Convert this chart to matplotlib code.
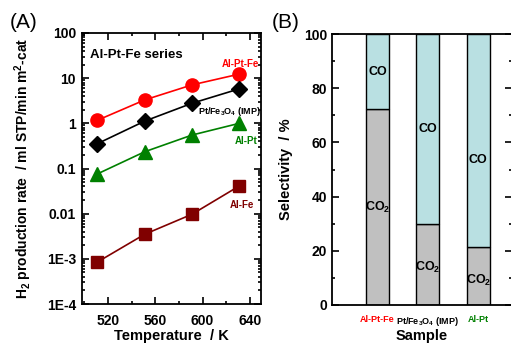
import matplotlib
matplotlib.use("Agg")
import matplotlib.pyplot as plt
import numpy as np
from matplotlib.ticker import FixedLocator, FixedFormatter, MultipleLocator, LogLocator, NullFormatter

plt.rcParams['font.family'] = ['Liberation Sans', 'DejaVu Sans']
plt.rcParams['mathtext.fontset'] = 'custom'
plt.rcParams['mathtext.rm'] = 'Liberation Sans:bold'
plt.rcParams['mathtext.it'] = 'Liberation Sans:bold'
plt.rcParams['mathtext.bf'] = 'Liberation Sans:bold'

# Panel A data
temperature = [511, 551, 591, 631]
al_pt_fe = [1.17, 3.3, 7.1, 12.3]
pt_fe3o4 = [0.355, 1.12, 2.78, 5.8]
al_pt = [0.076, 0.235, 0.55, 1.0]
al_fe = [8.5e-4, 3.5e-3, 0.0097, 0.041]
y_ticks = [1e-4, 1e-3, 1e-2, 1e-1, 1, 10, 100]
y_ticklabels = ["1E-4", "1E-3", "0.01", "0.1", "1", "10", "100"]
x_ticks = [520, 560, 600, 640]

# Panel B data
samples = ["Al-Pt-Fe", "Pt/Fe$_3$O$_4$ (IMP)", "Al-Pt"]
sample_colors = ["red", "black", "green"]
co2_sel = [72.2, 29.8, 21.3]
co_sel = [100 - v for v in co2_sel]

fig = plt.figure(figsize=(5.11, 3.44), dpi=100)

# ---------- Panel A ----------
axA = fig.add_axes([81.5/511, 1-304/344, 179/511, (304-33)/344])
axA.set_yscale('log')
axA.plot(temperature, al_pt_fe, '-o', color='red', lw=1.2, ms=9.5)
axA.plot(temperature, pt_fe3o4, '-D', color='black', lw=1.2, ms=8)
axA.plot(temperature, al_pt, '-^', color='#008000', lw=1.2, ms=10)
axA.plot(temperature, al_fe, '-s', color='#800000', lw=1.2, ms=8.5)
axA.set_xlim(497.5, 649)
axA.set_ylim(1e-4, 100)
axA.yaxis.set_major_locator(FixedLocator(y_ticks))
axA.yaxis.set_major_formatter(FixedFormatter(y_ticklabels))
axA.yaxis.set_minor_locator(LogLocator(base=10, subs=np.arange(2, 10)))
axA.yaxis.set_minor_formatter(NullFormatter())
axA.xaxis.set_major_locator(FixedLocator(x_ticks))
axA.xaxis.set_minor_locator(MultipleLocator(20))
axA.tick_params(which='both', direction='in', top=True, right=True, width=1.2)
axA.tick_params(which='major', length=5, labelsize=10)
axA.tick_params(axis='x', which='major', pad=7)
axA.tick_params(axis='y', which='major', pad=4)
axA.tick_params(which='minor', length=2.5)
for lab in axA.get_xticklabels() + axA.get_yticklabels():
    lab.set_fontweight('bold')
for s in axA.spines.values():
    s.set_linewidth(1.3)
axA.set_xlabel("Temperature  / K", fontsize=10.5, fontweight='bold', labelpad=1)
axA.set_ylabel("H$_2$ production rate  / ml STP/min m$^2$-cat", fontsize=10,
               fontweight='bold', labelpad=9)
axA.text(0.05, 0.92, "Al-Pt-Fe series", transform=axA.transAxes, fontsize=9.5,
         fontweight='bold', va='center', ha='left')
axA.text(0.99, 0.887, "Al-Pt-Fe", transform=axA.transAxes, fontsize=7, color='red',
         fontweight='bold', ha='right', va='center')
axA.text(1.0, 0.71, "Pt/Fe$_3$O$_4$ (IMP)", transform=axA.transAxes, fontsize=6.5,
         color='black', fontweight='bold', ha='right', va='center')
axA.text(0.985, 0.60, "Al-Pt", transform=axA.transAxes, fontsize=7, color='#008000',
         fontweight='bold', ha='right', va='center')
axA.text(0.965, 0.365, "Al-Fe", transform=axA.transAxes, fontsize=7, color='#800000',
         fontweight='bold', ha='right', va='center')
fig.text(10/511, 1-22/344, "(A)", fontsize=15, va='center', ha='left')

# ---------- Panel B ----------
axB = fig.add_axes([332/511, 1-305/344, 180/511, (305-34)/344])
xpos = np.arange(len(samples))
axB.bar(xpos, co2_sel, width=0.45, color='#c0c0c0', edgecolor='black', lw=1.0)
axB.bar(xpos, co_sel, bottom=co2_sel, width=0.45, color='#b9e0e2', edgecolor='black', lw=1.0)
co_label_frac = [0.5, 0.5, 0.41]
co2_label_frac = [0.5, 0.47, 0.42]
for i in range(len(samples)):
    axB.text(xpos[i], co2_sel[i] + co_sel[i] * co_label_frac[i], "CO", ha='center',
             va='center', fontsize=9, fontweight='bold')
    axB.text(xpos[i], co2_sel[i] * co2_label_frac[i], "CO$_2$", ha='center', va='center',
             fontsize=9, fontweight='bold')
axB.set_xlim(-0.9, 2.67)
axB.set_ylim(0, 100)
axB.yaxis.set_major_locator(MultipleLocator(20))
axB.yaxis.set_minor_locator(MultipleLocator(10))
axB.set_xticks(xpos)
axB.set_xticklabels(samples)
for lab, c in zip(axB.get_xticklabels(), sample_colors):
    lab.set_color(c)
    lab.set_fontweight('bold')
    lab.set_fontsize(6.5)
axB.tick_params(axis='x', length=0, pad=7)
axB.tick_params(axis='y', which='both', direction='in', right=True, width=1.2)
axB.tick_params(axis='y', which='major', length=5, labelsize=10)
axB.tick_params(axis='y', which='minor', length=2.5)
for lab in axB.get_yticklabels():
    lab.set_fontweight('bold')
for s in axB.spines.values():
    s.set_linewidth(1.3)
axB.set_ylabel("Selectivity  / %", fontsize=10.5, fontweight='bold', labelpad=8)
axB.set_xlabel("Sample", fontsize=10.5, fontweight='bold', labelpad=1)
fig.text(272/511, 1-22/344, "(B)", fontsize=15, va='center', ha='left')

fig.savefig("out.png", dpi=100)
